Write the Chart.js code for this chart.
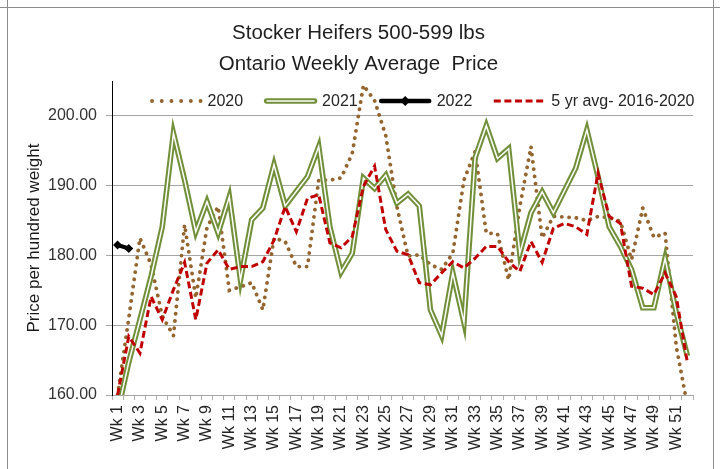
<!DOCTYPE html>
<html>
<head>
<meta charset="utf-8">
<script src="https://cdn.jsdelivr.net/npm/chart.js@4.4.1/dist/chart.umd.min.js"></script>
<style>
  html, body { margin: 0; padding: 0; background: #fff; }
  #wrap { position: relative; width: 720px; height: 469px; overflow: hidden; }
  canvas { position: absolute; left: 0; top: 0; }
  .fl { position: absolute; background: #8c8c8c; }
</style>
</head>
<body>
<div id="wrap">
  <canvas id="c" width="720" height="469"></canvas>
  <div class="fl" style="left:0;top:7px;width:720px;height:1px;"></div>
  <div class="fl" style="left:7px;top:0;width:1px;height:469px;"></div>
  <div class="fl" style="left:713px;top:0;width:1px;height:469px;"></div>
</div>
<script>
// ---------------- data ----------------
const weeks = ["Wk 1","Wk 2","Wk 3","Wk 4","Wk 5","Wk 6","Wk 7","Wk 8","Wk 9","Wk 10",
  "Wk 11","Wk 12","Wk 13","Wk 14","Wk 15","Wk 16","Wk 17","Wk 18","Wk 19","Wk 20",
  "Wk 21","Wk 22","Wk 23","Wk 24","Wk 25","Wk 26","Wk 27","Wk 28","Wk 29","Wk 30",
  "Wk 31","Wk 32","Wk 33","Wk 34","Wk 35","Wk 36","Wk 37","Wk 38","Wk 39","Wk 40",
  "Wk 41","Wk 42","Wk 43","Wk 44","Wk 45","Wk 46","Wk 47","Wk 48","Wk 49","Wk 50",
  "Wk 51","Wk 52"];

const price2020 = [160.0, 171.0, 182.5, 178.7, 171.3, 168.5, 184.4, 173.9, 184.0, 187.0,
  175.0, 175.5, 176.1, 172.2, 182.5, 182.0, 178.4, 178.4, 190.8, 190.8,
  191.1, 194.6, 204.4, 202.2, 197.2, 187.0, 179.9, 180.1, 178.7, 178.0,
  180.3, 190.8, 194.9, 183.2, 183.1, 176.5, 187.0, 195.6, 182.5, 185.6,
  185.5, 185.4, 185.0, 185.6, 185.4, 184.9, 179.4, 186.8, 182.6, 183.2,
  167.0, 158.5];

const price2021 = [157.5, 164.7, 170.8, 177.0, 184.1, 197.5, 190.8, 183.4, 187.7, 183.2,
  188.4, 176.5, 185.1, 186.8, 193.0, 187.1, 189.2, 191.3, 195.6, 184.1,
  177.6, 180.3, 191.1, 189.6, 191.5, 187.5, 188.8, 187.1, 172.2, 168.5,
  177.5, 170.4, 194.0, 198.6, 193.9, 195.3, 180.3, 186.1, 189.1, 186.1,
  189.3, 192.5, 198.0, 191.3, 184.1, 181.3, 178.0, 172.5, 172.5, 179.6,
  171.8, 165.6];

const price2022 = [181.5, 181.0];

const avg5yr = [160.0, 168.4, 166.0, 174.1, 170.8, 175.1, 179.0, 170.8, 178.9, 180.8,
  178.0, 178.4, 178.4, 179.1, 182.2, 187.0, 183.4, 188.2, 188.7, 181.8,
  181.1, 182.7, 189.9, 192.8, 183.7, 180.6, 180.1, 176.1, 175.8, 177.5,
  179.1, 178.2, 179.6, 181.3, 181.3, 179.1, 177.7, 182.0, 179.0, 183.9,
  184.6, 184.1, 183.0, 191.8, 185.6, 184.6, 175.6, 175.3, 174.4, 177.5,
  174.1, 164.6];

const yTicks = [160, 170, 180, 190, 200];
const titleLines = ["Stocker Heifers 500-599 lbs", "Ontario Weekly Average  Price"];
const yTitle = "Price per hundred weight";
const seriesNames = ["2020", "2021", "2022", "5 yr avg- 2016-2020"];

// ---------------- styles ----------------
const FONT = "'Liberation Sans', Arial, sans-serif";
const BROWN = "#94652f";
const GREEN = "#72903a";
const RED = "#c00000";
const BLACK = "#000000";

Chart.defaults.font.family = FONT;
Chart.defaults.color = "#333333";

const legendPlugin = {
  id: "customLegend",
  afterDatasetsDraw(chart) {
    const { ctx, chartArea } = chart;
    const y = chartArea.top + 20;
    let x = chartArea.left + 38;
    const sampleW = 52, gapA = 5.5, gapB = 21.5;
    ctx.save();
    ctx.font = "16px " + FONT;
    ctx.textBaseline = "middle";
    seriesNames.forEach((name, i) => {
      ctx.save();
      if (i === 0) {
        ctx.strokeStyle = BROWN; ctx.lineWidth = 3.8; ctx.lineCap = "round";
        ctx.setLineDash([0.1, 9.6]);
        ctx.beginPath(); ctx.moveTo(x + 2, y); ctx.lineTo(x + sampleW, y); ctx.stroke();
      } else if (i === 1) {
        ctx.strokeStyle = GREEN; ctx.lineWidth = 5.4; ctx.lineCap = "round";
        ctx.beginPath(); ctx.moveTo(x + 2, y); ctx.lineTo(x + sampleW - 2, y); ctx.stroke();
        ctx.strokeStyle = "#ffffff"; ctx.lineWidth = 1.5; ctx.lineCap = "butt";
        ctx.beginPath(); ctx.moveTo(x + 2, y); ctx.lineTo(x + sampleW - 2, y); ctx.stroke();
      } else if (i === 2) {
        ctx.strokeStyle = BLACK; ctx.lineWidth = 4.5; ctx.lineCap = "round";
        ctx.beginPath(); ctx.moveTo(x + 2, y); ctx.lineTo(x + sampleW - 2, y); ctx.stroke();
        ctx.fillStyle = BLACK;
        const cx = x + sampleW / 2, r = 5;
        ctx.beginPath(); ctx.moveTo(cx, y - r); ctx.lineTo(cx + r, y); ctx.lineTo(cx, y + r); ctx.lineTo(cx - r, y); ctx.closePath(); ctx.fill();
      } else {
        ctx.strokeStyle = RED; ctx.lineWidth = 3; ctx.lineCap = "butt";
        ctx.setLineDash([7, 3.6]);
        ctx.beginPath(); ctx.moveTo(x, y); ctx.lineTo(x + sampleW, y); ctx.stroke();
      }
      ctx.restore();
      ctx.fillStyle = "#262626";
      ctx.fillText(name, x + sampleW + gapA, y + 1);
      x += sampleW + gapA + ctx.measureText(name).width + gapB;
    });
    ctx.restore();
  }
};

new Chart(document.getElementById("c"), {
  type: "line",
  data: {
    labels: weeks,
    datasets: [
      { label: seriesNames[3], data: avg5yr, borderColor: RED, borderWidth: 3,
        borderDash: [7, 3.6], pointRadius: 0, order: 0, clip: 0, tension: 0 },
      { label: seriesNames[2], data: price2022, borderColor: BLACK, backgroundColor: BLACK,
        borderWidth: 4, pointStyle: "rectRot", pointRadius: 4.5, pointBorderWidth: 0,
        order: 1, clip: 0 },
      { label: "2021-inner", data: price2021, borderColor: "#ffffff", borderWidth: 1.5,
        pointRadius: 0, order: 2, clip: 0 },
      { label: seriesNames[1], data: price2021, borderColor: GREEN, borderWidth: 5.6,
        pointRadius: 0, order: 3, clip: 0 },
      { label: seriesNames[0], data: price2020, borderColor: BROWN, borderWidth: 3.8,
        borderDash: [0.1, 7.2], borderCapStyle: "round", pointRadius: 0, order: 4, clip: 0 }
    ]
  },
  options: {
    responsive: false,
    animation: false,
    devicePixelRatio: 1,
    layout: { padding: { left: 24, right: 27, top: 0, bottom: 0 } },
    plugins: {
      legend: { display: false },
      tooltip: { enabled: false },
      title: {
        display: true, text: titleLines, color: "#1f1f1f",
        font: { family: FONT, size: 20.5, weight: "normal", lineHeight: 1.52 },
        padding: { top: 18, bottom: 0.7 }
      }
    },
    scales: {
      x: {
        offset: true,
        grid: { offset: true, drawOnChartArea: false, drawTicks: true, tickLength: 5, color: "#b0b0b0" },
        border: { color: "#a6a6a6" },
        ticks: {
          autoSkip: false, minRotation: 90, maxRotation: 90, padding: 5,
          font: { size: 16 }, color: "#262626",
          callback: (v, i) => (i % 2 === 0 ? weeks[i] : "")
        },
        afterFit(scale) { scale.height = 74; scale.paddingLeft = 0; scale.paddingRight = 0; }
      },
      y: {
        min: 160, max: 205,
        afterBuildTicks(scale) { scale.ticks = yTicks.map(v => ({ value: v })); },
        ticks: { stepSize: 10, includeBounds: false, padding: 9, font: { size: 16 }, color: "#333333",
          callback: v => Number(v).toFixed(2) },
        grid: { color: "#a6a6a6", tickLength: 6, drawTicks: true },
        border: { color: "#000000", width: 1 },
        title: { display: true, text: yTitle, color: "#1a1a1a",
          font: { size: 17, weight: "normal" }, padding: { top: 0.5, bottom: 0 } },
        afterFit(scale) { scale.width = 88; scale.paddingTop = 0; scale.paddingBottom = 0; }
      }
    }
  },
  plugins: [legendPlugin]
});
</script>
</body>
</html>
